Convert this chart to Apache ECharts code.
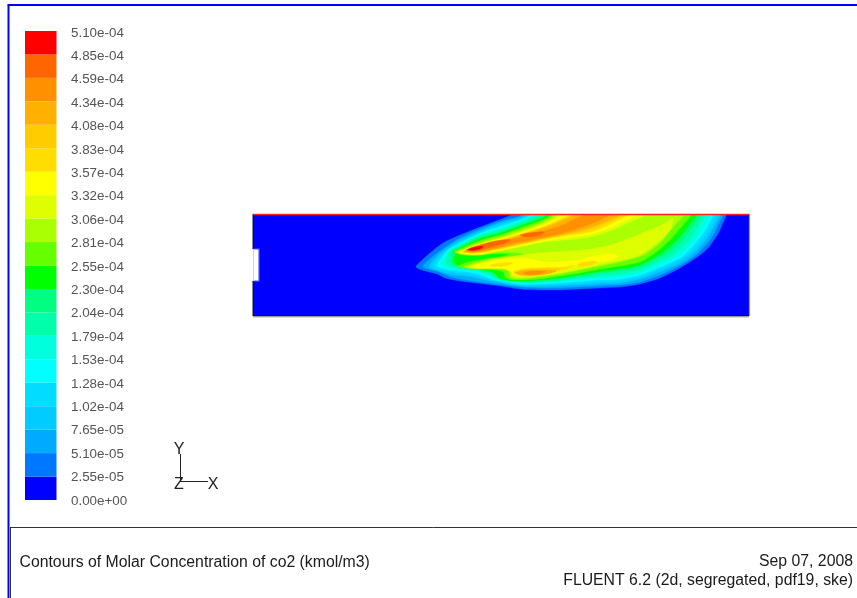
<!DOCTYPE html>
<html><head><meta charset="utf-8">
<style>html,body{margin:0;padding:0;background:#fff}#c{width:857px;height:598px}</style>
<script src="https://cdn.jsdelivr.net/npm/echarts@6/dist/echarts.min.js"></script>
</head><body><div id="c"></div>
<script>
const tickLabels = ['0.00e+00','2.55e-05','5.10e-05','7.65e-05','1.02e-04','1.28e-04','1.53e-04','1.79e-04','2.04e-04','2.30e-04','2.55e-04','2.81e-04','3.06e-04','3.32e-04','3.57e-04','3.83e-04','4.08e-04','4.34e-04','4.59e-04','4.85e-04','5.10e-04'];
const bandColors = ['#0000ff','#0077ff','#00aaff','#00ccff','#00ddff','#00ffff','#00ffdd','#00ffaa','#00ff80','#00ff00','#66ff00','#aaff00','#ddff00','#ffff00','#ffdd00','#ffcc00','#ffb000','#ff9000','#ff6600','#ff0000'];
const legendBands = [1,1,1,1,1,1,1,1,1,1,1,1,1,1,1,1,1,1,1,1];

// contour outlines in sample-grid units, lowest band first
const domain = [[253,214],[749,214],[749,316],[253,316]];
const inlet = [[253,249],[259,249],[259,281],[253,281]];
const c1 = [[517,214],[725,214],[722,225],[719,232],[714,240],[708,248],[700,255],[680,268],[660,278],[640,284],[620,287],[600,288],[580,289],[560,290],[540,290],[520,289],[500,286],[480,283.5],[460,281],[445,278],[437,274],[425,271],[416,267],[420,262],[430,253],[443,243],[460,235],[480,227],[500,219.5]];
const c2 = [[523,214],[722,214],[718,225],[715,232],[710,240],[704,247],[696,255],[680,265.5],[660,275],[640,282],[620,285],[600,286],[580,287],[560,288],[540,288],[520,287],[500,284.5],[480,282],[460,279],[447,275.5],[438,271.5],[428,269],[423,266.5],[432,257],[445,247.5],[460,238],[480,229],[500,221.5],[520,216]];
const c3 = [[528,214],[719,214],[715,225],[711,232],[706,240],[700,247],[692,255],[680,263],[660,272],[640,279],[620,283],[600,284],[580,285],[560,286],[540,286.5],[520,286],[500,283],[485,280],[470,276.5],[455,275],[445,273],[435,270],[429,266.5],[438,255],[450,246],[460,240],[480,231],[500,223],[520,217.5]];
const c4 = [[532,214],[716,214],[712,225],[708,232],[702,240],[696,247],[688,255],[680,260],[660,269],[640,277],[620,281],[600,282],[580,283],[560,284.5],[540,285],[520,285],[500,282],[490,279.5],[480,276.5],[470,274],[455,272.5],[441,270],[433,266.5],[440,256],[452,247],[460,242],[480,232.5],[500,225],[520,219]];
const c5 = [[536,214],[712,214],[708,225],[704,232],[698,240],[692,247],[684,255],[680,258],[660,267],[640,275],[620,279],[600,280],[580,281.5],[560,283],[540,284],[520,284],[500,281],[490,278.5],[482,275],[472,272.5],[460,271],[445,269],[437,265.5],[443,256],[447,250.5],[460,243],[480,233.5],[500,226.5],[520,220]];
const c6 = [[540,214],[709,214],[705,225],[700,232],[695,240],[688,247],[680,255],[660,265],[640,273],[620,277],[600,278],[580,280],[560,282],[540,283],[520,283],[503,280.5],[492,278],[485,274.5],[475,271.5],[462,270],[448,268],[441,264],[446,256],[450,249.5],[460,244],[480,234.5],[500,228],[520,221]];
const c7 = [[544,214],[704,214],[699,225],[695,232],[689,240],[681,247],[673,255],[660,261],[640,270],[620,274],[600,276],[580,278],[560,280.5],[540,282],[520,282.5],[505,280],[494,277.5],[488,274],[478,270.5],[465,269],[452,267],[446,263],[447,257],[450,251],[460,245],[480,235.5],[500,230],[520,223]];
const c8 = [[548,214],[700,214],[694,225],[689,232],[683,240],[675,247],[666,255],[660,257],[640,267],[620,271],[600,273],[580,276],[560,279],[540,281],[520,281.5],[507,280],[497,277],[491,273],[482,270],[467,268],[456,266],[451,262],[451,258],[451,252],[460,247],[480,237],[500,232],[520,224.5],[540,217]];
const c9 = [[553,214],[696,214],[689,225],[684,232],[677,240],[668,248],[659,255],[640,265],[620,269],[600,271.5],[580,275],[560,278],[540,280],[520,281],[510,280.5],[500,279],[497,276],[492,272],[482,269.5],[468,267.5],[458,265.5],[453,262],[454,257],[456,254],[453,252],[460,248],[480,238.5],[500,233],[520,226],[540,219]];
const c10 = [[557,214],[690,214],[683,225],[677,232],[670,240],[660,249],[652,255],[640,262],[620,266],[600,269],[580,273],[560,276],[540,279],[520,280],[510,279.5],[505,277],[503,272],[495,270],[480,269.5],[465,268],[458,266.5],[465,263],[478,260],[492,258],[510,254.5],[492,254],[478,255.5],[462,255],[454,252],[460,249],[480,240.5],[500,235],[520,228],[540,221]];
const c11 = [[561,214],[683,214],[675,225],[669,232],[663,240],[654,248],[644,255],[620,262],[600,266],[580,270],[560,274],[540,277],[520,279],[511,278],[509,275],[510,270],[503,268],[492,268.5],[478,269],[464,267],[470,264.5],[480,261.5],[495,258],[510,256.5],[525,254.5],[512,252.5],[495,252.5],[480,255],[465,254.5],[455,252],[460,250],[480,242],[500,236.5],[520,230],[540,223]];
const c12a = [[565,214],[646,214],[630,222],[610,231],[590,237],[567,240],[545,242],[525,246],[510,249],[495,252],[480,254.5],[466,254],[456,252],[460,251],[480,243.5],[500,238],[520,231.5],[540,224.5]];
const c12b = [[673,218],[670,230],[657,243],[640,255],[623,260],[607,263],[590,267],[560,273],[540,276],[520,277.5],[512,276.5],[510,273],[507,270],[490,268.5],[478,268.5],[467,267],[480,263],[495,259],[510,257],[530,254],[550,252],[570,251],[590,249],[610,245],[630,238],[650,230],[667,222]];
const c13a = [[570,214],[636,214],[625,221],[610,228],[590,234.5],[567,237.5],[545,241],[525,245],[510,248],[495,251],[480,254],[468,254],[458,252.5],[465,250],[480,244.5],[500,239],[520,233],[545,224]];
const c13b = [[470,267],[485,263],[500,259.5],[515,258.5],[530,259],[545,262],[570,261],[590,257],[607,253.5],[618,256],[610,260],[590,263],[570,267.5],[555,271],[540,274.5],[525,275.5],[515,274.5],[510,271.5],[505,268.5],[490,268],[478,268]];
const c14a = [[575,214],[628,214],[618,220],[605,226.5],[590,232],[567,235.5],[545,239.5],[525,243.5],[510,247],[495,250],[480,253],[470,253],[462,252],[467,250],[480,245],[500,240],[520,234],[545,226]];
const c14b = [[513,272],[525,268.5],[545,267.5],[565,267],[575,265],[570,268],[555,271.5],[540,275],[525,275.5]];
const c14c = [[490,265],[505,262.5],[513,263],[505,266],[492,266.5]];
const c14d = [[578,264],[592,261],[597,262],[590,265],[578,267]];
const c15a = [[578,214],[624,214],[614,219.7],[602,225],[587,230.5],[568,234],[547,238],[527,242.5],[512,246],[497,249],[482,252],[471,252.7],[463,251.8],[467.5,250],[480,245.5],[500,240.5],[520,234.7],[547,226]];
const c15b = [[514,272.5],[525,269.5],[545,268.7],[560,269],[552,272.5],[535,275.5],[522,275.3]];
const c16a = [[581,214],[620,214],[610,219.5],[600,224],[585,229],[570,233],[550,237],[530,241.5],[515,244.5],[500,248],[485,251],[472,252.5],[464,251.5],[468,250],[480,246],[500,241],[520,235.5],[550,226]];
const c16b = [[515,273],[525,270.5],[545,270],[556,271],[548,274],[530,275.5],[520,275]];
const c17a = [[588,214],[610,214],[600,220],[585,226],[570,231],[550,236],[530,240],[515,243],[500,247],[487,250],[474,252],[466,251],[470,250],[482,246.5],[500,242],[520,237],[540,232],[560,226]];
const c17b = [[523,273],[532,271],[545,271.5],[540,274],[528,274.5]];
const c18a = [[466,250],[478,245.5],[495,241],[510,239.5],[508,242],[495,246],[480,250],[470,251]];
const c18b = [[520,235],[532,232.5],[544,232],[540,235],[526,237]];
const c19 = [[468,249.5],[475,247],[483,246.5],[481,248.5],[473,250.5]];

const layers = [[0,domain],[1,c1],[2,c2],[3,c3],[4,c4],[5,c5],[6,c6],[7,c7],[8,c8],[9,c9],[10,c10],[11,c11],[12,c12a],[12,c12b],[13,c13a],[13,c13b],[14,c14a],[14,c14b],[14,c14c],[14,c14d],[15,c15a],[15,c15b],[16,c16a],[16,c16b],[17,c17a],[17,c17b],[18,c18a],[18,c18b],[19,c19]];

const chart = echarts.init(document.getElementById('c'), null, {renderer:'canvas'});
const font = '"Liberation Sans", Arial, sans-serif';
const txt = (text,x,y,size,fill,align) => ({type:'text',x,y,silent:true,style:{text,font:`${size}px ${font}`,fill,textAlign:align||'left',textVerticalAlign:'middle'}});
const ln = (x1,y1,x2,y2,stroke,w) => ({type:'line',silent:true,shape:{x1,y1,x2,y2},style:{stroke,lineWidth:w}});

chart.setOption({
  animation:false,
  backgroundColor:'#fff',
  grid:[
    {left:253,top:214,width:496,height:102},
    {left:25,top:31,width:31.5,height:469},
    {left:25,top:33,width:31.5,height:468}
  ],
  xAxis:[
    {gridIndex:0,type:'value',min:253,max:749,show:false},
    {gridIndex:1,type:'category',data:['co2'],show:false},
    {gridIndex:2,type:'category',data:['co2'],show:false}
  ],
  yAxis:[
    {gridIndex:0,type:'value',min:214,max:316,inverse:true,show:false},
    {gridIndex:1,type:'value',min:0,max:20,interval:1,show:false},
    {gridIndex:2,type:'value',min:0,max:20,interval:1,position:'right',
     axisLine:{show:false},axisTick:{show:false},splitLine:{show:false},
     axisLabel:{show:true,margin:14.5,align:'left',color:'#555',fontFamily:'Liberation Sans',fontSize:13.4,
       showMinLabel:true,showMaxLabel:true,hideOverlap:false,formatter:v=>tickLabels[Math.round(v)]}}
  ],
  series:[
    {type:'custom',xAxisIndex:0,yAxisIndex:0,clip:true,silent:true,
     data:layers.map((l,i)=>[i]),
     encode:{x:[],y:[]},
     renderItem:(params,api)=>{
       const l = layers[params.dataIndex];
       return {type:'polygon',shape:{points:l[1].map(p=>api.coord(p)),smooth:l[0]===0?0:0.3},style:{fill:bandColors[l[0]],stroke:bandColors[l[0]],lineWidth:0.3}};
     }},
    {type:'custom',xAxisIndex:0,yAxisIndex:0,clip:false,silent:true,z:5,
     data:[[0]],encode:{x:[],y:[]},
     renderItem:(params,api)=>{
       const c = p=>api.coord(p);
       const seg=(a,b,stroke,w)=>({type:'line',shape:{x1:c(a)[0],y1:c(a)[1],x2:c(b)[0],y2:c(b)[1]},style:{stroke,lineWidth:w}});
       return {type:'group',children:[
         {type:'polygon',shape:{points:inlet.map(c)},style:{fill:'#fff',stroke:'#5a5aff',lineWidth:1.2}},
         seg([252.5,249],[252.5,281],'#fff',2),
         seg(domain[3],domain[2],'#111',1.2),
         seg([253,317.2],[749,317.2],'#ccc',1),
         seg([253,214],[253,249],'#111',1),
         seg([253,281],[253,316],'#111',1),
         seg([749.5,214],[749.5,316],'#999',1.2),
         seg([253,214.5],[749,214.5],'#ff2020',1.6)
       ]};
     }},
    ...legendBands.map((b,i)=>({type:'bar',xAxisIndex:1,yAxisIndex:1,stack:'legend',barWidth:31.5,silent:true,
      data:[b],itemStyle:{color:bandColors[i]}}))
  ],
  graphic:{elements:[
    ln(8.5,5,8.5,598,'#0000ff',2), ln(7.5,5,857,5,'#0000ff',2),
    ln(10.5,528,10.5,598,'#333',1), ln(10,527.5,857,527.5,'#333',1),
    txt('Contours of Molar Concentration of co2 (kmol/m3)',19.5,562.5,15.8,'#1a1a1a'),
    txt('Sep 07, 2008',853,562,15.8,'#1a1a1a','right'),
    txt('FLUENT 6.2 (2d, segregated, pdf19, ske)',853,581,15.8,'#1a1a1a','right'),
    ln(180.5,454,180.5,482,'#222',1), ln(180,481.5,208,481.5,'#222',1),
    txt('Y',179,450,16,'#222','center'), txt('Z',179,485,16,'#222','center'), txt('X',213,485,16,'#222','center')
  ]}
});
</script></body></html>
